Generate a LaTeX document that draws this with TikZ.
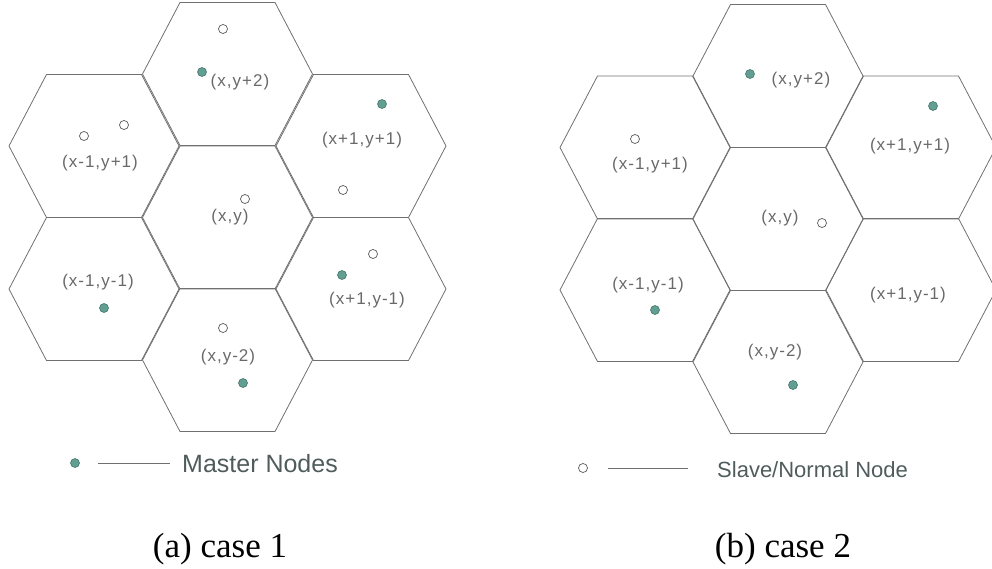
\documentclass[tikz,border=0pt]{standalone}
\usepackage{fontspec}
\setmainfont{Liberation Serif}
\newfontfamily\cellfont[LetterSpace=6]{Liberation Sans}
\newfontfamily\legendfont{Liberation Sans}
\definecolor{cellline}{RGB}{112,112,112}
\definecolor{celltext}{RGB}{105,105,105}
\definecolor{legendtext}{RGB}{80,92,92}
\definecolor{masterfill}{RGB}{98,158,146}
\definecolor{masterdraw}{RGB}{70,120,110}
\definecolor{slavedraw}{RGB}{90,90,90}
\newcommand{\hexcell}[2]{\draw[cell] ({#1-85},#2) -- ({#1-47.5},{#2-71.5}) -- ({#1+47.5},{#2-71.5}) -- ({#1+85},#2) -- ({#1+47.5},{#2+71.5}) -- ({#1-47.5},{#2+71.5}) -- cycle;}
\begin{document}
\begin{tikzpicture}[x=1pt, y=-1pt,
        cell/.style={draw=cellline, line width=0.8pt},
        master/.style={circle, draw=masterdraw, fill=masterfill, line width=0.6pt, inner sep=0pt, minimum size=9pt},
        slave/.style={circle, draw=slavedraw, fill=white, line width=0.7pt, inner sep=0pt, minimum size=9pt},
        cellname/.style={font=\cellfont\fontsize{17}{17}\selectfont, text=celltext, inner sep=0pt},
        legend/.style={font=\legendfont\fontsize{#1}{#1}\selectfont, text=legendtext, inner sep=0pt, anchor=base west},
        caption/.style={font=\fontsize{35}{35}\selectfont, inner sep=0pt, anchor=base}]
    \useasboundingbox (0,0) rectangle (992,569);
    \foreach \cx/\cy in {227.5/74, 94/146, 361/146, 227.5/217.5, 94/289, 361/289, 227.5/360,
                         778/76, 645/147.5, 911/147.5, 778/219, 645/290, 911/290, 778/362}
        {\hexcell{\cx}{\cy}}

    % case 1
    \node[slave] (a1) at (223, 29) {};
    \node[master] (a2) at (202, 72) {};
    \node[cellname] (ayp2) at (240, 82) {(x,y+2)};
    \node[slave] (a3) at (84, 136) {};
    \node[slave] (a4) at (124, 125) {};
    \node[cellname] (axm1yp1) at (100, 163) {(x-1,y+1)};
    \node[master] (a5) at (382, 104) {};
    \node[cellname] (axp1yp1) at (362, 140) {(x+1,y+1)};
    \node[slave] (a6) at (343, 190) {};
    \node[cellname] (axy) at (230, 217) {(x,y)};
    \node[slave] (a7) at (245, 199) {};
    \node[cellname] (axm1ym1) at (98, 282) {(x-1,y-1)};
    \node[master] (a8) at (104, 308) {};
    \node[slave] (a9) at (373, 254) {};
    \node[master] (a10) at (342, 275) {};
    \node[cellname] (axp1ym1) at (367, 300) {(x+1,y-1)};
    \node[slave] (a11) at (223, 328) {};
    \node[cellname] (aym2) at (228, 357) {(x,y-2)};
    \node[master] (a12) at (243, 383) {};
    \node[master] (mkey) at (75, 463) {};
    \node[legend=25] (mtext) at (182, 472) {Master Nodes};
    \draw[cellline, line width=0.8pt, shorten <=18.5pt, shorten >=12pt] (mkey) -- (mkey -| mtext.west);
    \node[caption] (capa) at (220, 557) {(a) case 1};

    % case 2
    \node[master] (b1) at (750, 74) {};
    \node[cellname] (byp2) at (801, 80) {(x,y+2)};
    \node[slave] (b2) at (635, 139) {};
    \node[cellname] (bxm1yp1) at (650, 165) {(x-1,y+1)};
    \node[master] (b3) at (933, 106) {};
    \node[cellname] (bxp1yp1) at (910, 146) {(x+1,y+1)};
    \node[cellname] (bxy) at (780, 218) {(x,y)};
    \node[slave] (b4) at (822, 223) {};
    \node[cellname] (bxm1ym1) at (648, 285) {(x-1,y-1)};
    \node[master] (b5) at (655, 310) {};
    \node[cellname] (bxp1ym1) at (908, 295) {(x+1,y-1)};
    \node[cellname] (bym2) at (775, 352) {(x,y-2)};
    \node[master] (b6) at (793, 385) {};
    \node[slave] (skey) at (583, 468) {};
    \node[legend=22] (stext) at (717, 477) {Slave/Normal Node};
    \draw[cellline, line width=0.8pt, shorten <=20.5pt, shorten >=29pt] (skey) -- (skey -| stext.west);
    \node[caption] (capb) at (783, 557) {(b) case 2};
\end{tikzpicture}
\end{document}
